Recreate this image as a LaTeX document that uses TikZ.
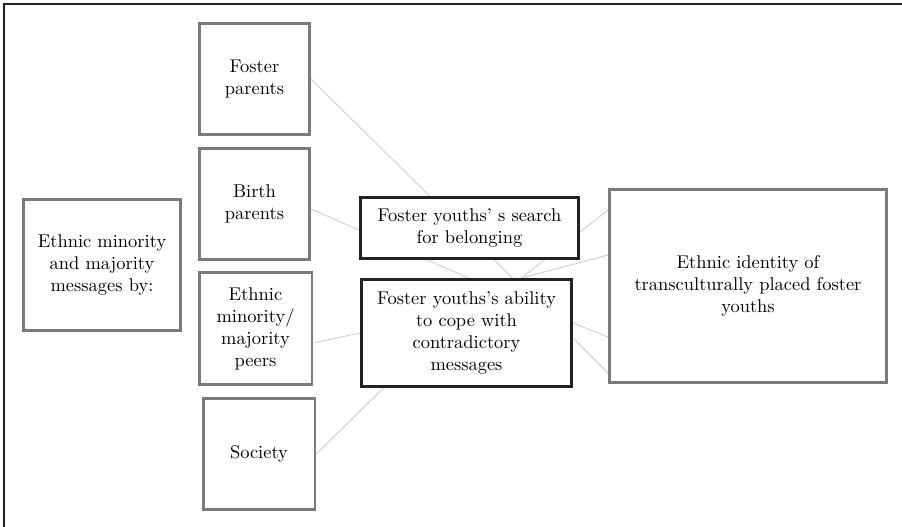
\documentclass[tikz,border=0pt]{standalone}
\usepackage{xcolor}
\usetikzlibrary{calc,backgrounds}

\definecolor{boxgray}{HTML}{7A7A7A}
\definecolor{boxdark}{HTML}{222222}
\definecolor{linkgray}{HTML}{D4D4D4}

\begin{document}
\begin{tikzpicture}[x=0.02cm, y=-0.02cm, font=\fontsize{10.5}{12.5}\selectfont,
    node distance=2.5cm,
    src/.style={draw=boxgray, line width=1.7pt, fill=white, align=center,
      inner sep=0pt, minimum width=2.2cm, minimum height=2.22cm},
    mid/.style={draw=boxdark, line width=1.7pt, fill=white, align=center, inner sep=0pt},
    link/.style={draw=linkgray, line width=0.6pt}]
      \useasboundingbox (0,0) rectangle (902,527);
      \draw[boxdark, line width=0.9pt] (4,527) -- (4,4) -- (902,4);

      \node[src, name=em, minimum width=3.14cm, minimum height=2.62cm] at (102,265)
         {Ethnic minority\\and majority\\messages by:};
      \node[src, name=fp] at (254.5,79) {Foster\\parents};
      \node[src, name=bp, below of=fp] {Birth\\parents};
      \node[src, name=pe, below of=bp, xshift=0.02cm, minimum width=2.26cm, minimum height=2.24cm]
         {Ethnic\\minority/\\majority\\peers};
      \node[src, name=so, below of=pe, xshift=0.07cm, minimum width=2.24cm] {Society};

      \node[mid, name=sb, minimum width=4.36cm, minimum height=1.22cm] at (469.5,228)
         {Foster youths' s search\\for belonging};
      \node[mid, name=ab, below of=sb, node distance=2.1cm, xshift=-0.06cm,
         minimum width=4.2cm, minimum height=2.14cm]
         {Foster youths's ability\\to cope with\\contradictory\\messages};

      \node[src, name=ei, minimum width=5.54cm, minimum height=3.86cm] at (748,286)
         {Ethnic identity of\\transculturally placed foster\\youths};

      \begin{scope}[on background layer]
      \path[link]
         (fp.east) edge ($(ab.north)+(46,0)$)
         ($(bp.east)+(0,5)$) edge ($(ab.north)+(2,0)$)
         ($(pe.east)+(0,14)$) edge (ab.west)
         (so.east) edge ($(ab.south)+(-83,0)$)
         ($(ei.west)+(0,-76)$) edge ($(ab.north)+(55,0)$)
         ($(ab.north)+(55,0)$) edge ($(ei.west)+(0,-31)$)
         ($(ab.east)+(0,-10)$) edge ($(ei.west)+(0,51)$)
         ($(ab.east)+(0,5)$) edge ($(ei.west)+(0,87)$);
      \end{scope}
   \end{tikzpicture}
\end{document}
